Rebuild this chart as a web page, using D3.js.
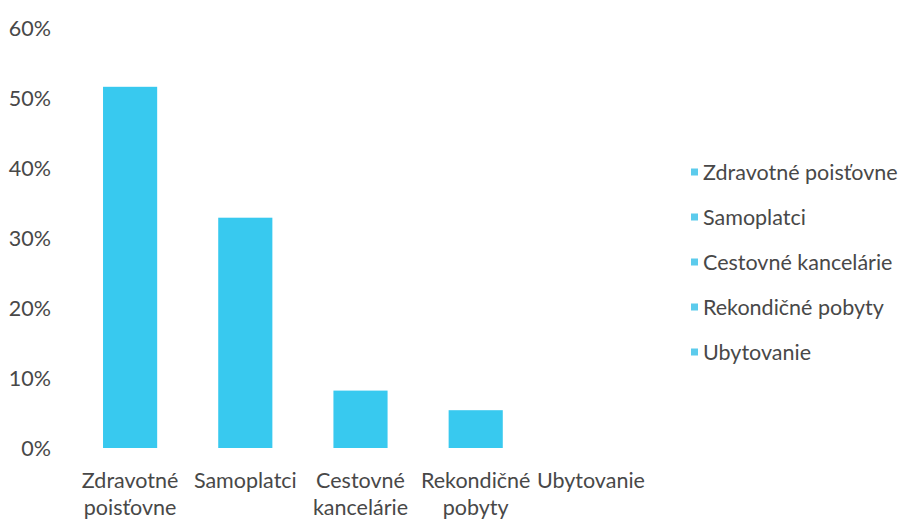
<!DOCTYPE html>
<html>
<head>
<meta charset="utf-8">
<script src="https://cdn.jsdelivr.net/npm/d3@7"></script>
<style>
body{margin:0;background:#fff;}
text{font-family:Lato,"Open Sans",sans-serif;}
</style>
</head>
<body>
<svg id="c" width="910" height="521"></svg>
<script>
const categories = ["Zdravotné poisťovne","Samoplatci","Cestovné kancelárie","Rekondičné pobyty","Ubytovanie"];
const axisLabels = [["Zdravotné","poisťovne"],["Samoplatci"],["Cestovné","kancelárie"],["Rekondičné","pobyty"],["Ubytovanie"]];
const values = [0.516, 0.329, 0.082, 0.054, 0.0];
const yTicks = [0,0.1,0.2,0.3,0.4,0.5,0.6];

const svg = d3.select("#c");
const barColor = "#38c9ef";
const textColor = "#484848";
const fs = 21.5;

const x = d3.scaleBand().domain(categories).range([72.5,648.5]).paddingInner(0.53).paddingOuter(0.265);
const y = d3.scaleLinear().domain([0,0.6]).range([448,28]);

// y axis labels
const yAxis = d3.axisLeft(y).tickValues(yTicks).tickFormat(d3.format(".0%")).tickSize(0).tickPadding(0);
const gy = svg.append("g").attr("transform","translate(51,0)").call(yAxis);
gy.select(".domain").remove();
gy.selectAll("text").attr("font-size",fs).attr("fill",textColor).attr("font-family","Lato, sans-serif").attr("dy","0.36em");

// bars
svg.append("g").selectAll("rect").data(values).join("rect")
  .attr("x",(d,i)=>x(categories[i]))
  .attr("width",x.bandwidth())
  .attr("y",d=>y(d))
  .attr("height",d=>y(0)-y(d))
  .attr("fill",barColor);

// x axis labels
const xAxis = d3.axisBottom(x).tickSize(0).tickFormat("");
const gx = svg.append("g").attr("transform",`translate(0,${y(0)})`).call(xAxis);
gx.select(".domain").remove();
gx.selectAll(".tick").each(function(d,i){
  const t = d3.select(this).append("text").attr("fill",textColor).attr("font-size",fs)
    .attr("text-anchor","middle").attr("font-family","Lato, sans-serif");
  axisLabels[i].forEach((line,j)=>{
    t.append("tspan").attr("x",0).attr("y",40+j*27).text(line);
  });
});

// legend
const lg = svg.append("g");
categories.forEach((c,i)=>{
  const cy = 172 + i*45;
  lg.append("rect").attr("x",691).attr("y",cy-3.5).attr("width",7).attr("height",7).attr("fill","#5ccbec");
  lg.append("text").attr("x",703).attr("y",cy).attr("dy","0.36em").attr("font-size",fs)
    .attr("fill",textColor).text(c);
});
</script>
</body>
</html>
